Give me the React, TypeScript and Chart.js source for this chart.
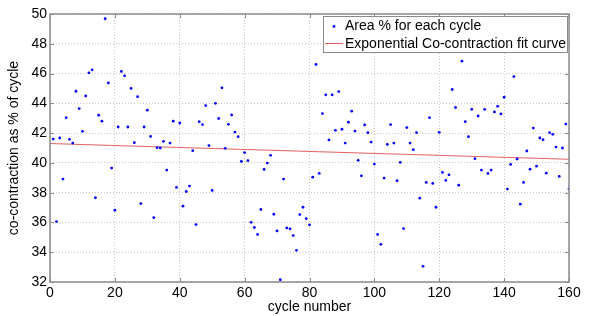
import React, { useEffect, useRef } from "react";
import { Chart, registerables } from "chart.js";

Chart.register(...registerables);

// cycle numbers (x categories)
const cycles: number[] = Array.from({ length: 160 }, (_, i) => i + 1);

// co-contraction area % for each cycle
const areaPercent: number[] = [
  41.6, 36.06, 41.67, 38.91, 43.04, 41.58, 41.33, 44.81, 43.65, 42.12,
  44.5, 46.05, 46.25, 37.66, 43.2, 42.8, 49.68, 45.37, 39.65, 36.82,
  42.41, 46.14, 45.85, 42.41, 45.0, 41.36, 44.45, 37.27, 42.41, 43.54,
  41.78, 36.33, 41.02, 41.0, 41.45, 39.52, 41.33, 42.8, 38.35, 42.68,
  37.09, 38.08, 38.44, 40.82, 35.86, 42.77, 42.57, 43.85, 41.16, 38.15,
  44.0, 42.98, 45.04, 40.98, 42.59, 43.22, 42.07, 41.76, 40.1, 40.69,
  40.15, 36.01, 35.66, 35.19, 36.87, 39.56, 39.99, 40.51, 36.55, 35.43,
  32.15, 38.91, 35.63, 35.57, 35.12, 34.13, 36.53, 37.02, 36.26, 35.84,
  39.04, 46.61, 39.29, 43.31, 44.57, 41.54, 44.57, 42.19, 44.79, 42.26,
  41.33, 42.73, 43.47, 42.14, 40.17, 39.13, 42.55, 42.03, 41.4, 39.92,
  35.19, 34.53, 38.98, 41.25, 42.57, 41.33, 38.8, 40.03, 35.59, 42.37,
  41.33, 40.89, 42.03, 37.63, 33.05, 38.69, 43.04, 38.62, 37.02, 42.05,
  39.36, 38.82, 39.2, 44.93, 43.72, 38.5, 46.83, 42.77, 41.76, 43.6,
  40.28, 43.15, 39.52, 43.6, 39.29, 39.52, 43.42, 43.8, 43.29, 44.41,
  38.24, 39.9, 45.8, 40.26, 37.23, 38.69, 40.8, 39.58, 42.34, 39.78,
  41.67, 41.56, 39.31, 42.03, 41.92, 41.06, 39.09, 41.0, 42.61, 38.26,
];

// exponential fit parameters y = a * exp(b * x)
const fitA = 41.3;
const fitB = -0.000162;
const fitX: number[] = [0, ...cycles];

const xTicks: number[] = [0, 20, 40, 60, 80, 100, 120, 140, 160];
const yTicks: number[] = [32, 34, 36, 38, 40, 42, 44, 46, 48, 50];

const seriesLabels = ["Area % for each cycle", "Exponential Co-contraction fit curve"];

const FONT = '"Liberation Sans", Arial, Helvetica, sans-serif';

const framePlugin = {
  id: "matlabFrame",
  afterDatasetsDraw(chart: any) {
    const { ctx, chartArea } = chart;
    const { left, right, top, bottom } = chartArea;
    const xs = chart.scales.x;
    const ys = chart.scales.y;
    ctx.save();
    ctx.strokeStyle = "#8a8a8a";
    ctx.lineWidth = 1.5;
    ctx.strokeRect(left, top, right - left, bottom - top);
    ctx.lineWidth = 1;
    ctx.beginPath();
    const tl = 4;
    xTicks.forEach((v) => {
      const px = Math.round(xs.getPixelForValue(v)) + 0.5;
      ctx.moveTo(px, bottom);
      ctx.lineTo(px, bottom - tl);
      ctx.moveTo(px, top);
      ctx.lineTo(px, top + tl);
    });
    yTicks.forEach((v) => {
      const py = Math.round(ys.getPixelForValue(v)) + 0.5;
      ctx.moveTo(left, py);
      ctx.lineTo(left + tl, py);
      ctx.moveTo(right, py);
      ctx.lineTo(right - tl, py);
    });
    ctx.stroke();
    ctx.restore();
  },
  afterDraw(chart: any) {
    const { ctx } = chart;
    const ds = chart.data.datasets;
    ctx.save();
    // legend box
    const bx = 323.5, by = 16.5, bw = 244, bh = 36;
    ctx.fillStyle = "#ffffff";
    ctx.fillRect(bx, by, bw, bh);
    ctx.strokeStyle = "#8a8a8a";
    ctx.lineWidth = 1;
    ctx.strokeRect(bx, by, bw, bh);
    ctx.font = "14px " + FONT;
    ctx.fillStyle = "#000";
    ctx.textBaseline = "middle";
    ctx.textAlign = "left";
    // entry 1: point marker
    ctx.fillStyle = ds[0].backgroundColor;
    ctx.beginPath();
    ctx.arc(334, 26.5, 1.4, 0, Math.PI * 2);
    ctx.fill();
    ctx.fillStyle = "#000";
    ctx.fillText(ds[0].label, 345, 26.5);
    // entry 2: line marker
    ctx.strokeStyle = ds[1].borderColor;
    ctx.beginPath();
    ctx.moveTo(325, 43.5);
    ctx.lineTo(343, 43.5);
    ctx.stroke();
    ctx.fillText(ds[1].label, 345, 44);
    ctx.restore();
  },
};

export default function App() {
  const ref = useRef<HTMLCanvasElement | null>(null);

  useEffect(() => {
    document.body.style.margin = "0";
    const canvas = ref.current;
    if (!canvas) return;
    const chart = new Chart(canvas, {
      type: "scatter",
      data: {
        datasets: [
          {
            label: seriesLabels[0],
            data: cycles.map((c, i) => ({ x: c, y: areaPercent[i] })),
            backgroundColor: "#0000ff",
            borderWidth: 0,
            pointRadius: 1.4,
            pointHoverRadius: 1.4,
          },
          {
            label: seriesLabels[1],
            data: fitX.map((x) => ({ x, y: fitA * Math.exp(fitB * x) })),
            showLine: true,
            borderColor: "#e05a5a",
            borderWidth: 1,
            pointRadius: 0,
            fill: false,
          },
        ],
      },
      options: {
        animation: false,
        responsive: false,
        devicePixelRatio: 1,
        layout: { padding: { top: 14, right: 28, left: 0, bottom: 0 } },
        plugins: {
          legend: { display: false },
          tooltip: { enabled: false },
        },
        scales: {
          x: {
            type: "linear",
            min: 0,
            max: 160,
            afterBuildTicks: (s: any) => {
              s.ticks = xTicks.map((v) => ({ value: v }));
            },
            afterFit: (s: any) => {
              s.height = 34;
            },
            ticks: {
              color: "#000",
              font: { family: FONT, size: 14 },
              padding: 3,
              maxRotation: 0,
            },
            grid: { color: "#c4c4c4", lineWidth: 1, drawTicks: false },
            border: { display: false, dash: [1, 2] },
            title: {
              display: true,
              text: "cycle number",
              color: "#000",
              font: { family: FONT, size: 14 },
              padding: { top: 2, bottom: 0 },
            },
          },
          y: {
            type: "linear",
            min: 32,
            max: 50,
            afterBuildTicks: (s: any) => {
              s.ticks = yTicks.map((v) => ({ value: v }));
            },
            afterFit: (s: any) => {
              s.width = 50;
            },
            ticks: {
              color: "#000",
              font: { family: FONT, size: 14 },
              padding: 3,
            },
            grid: { color: "#c4c4c4", lineWidth: 1, drawTicks: false },
            border: { display: false, dash: [1, 2] },
            title: {
              display: true,
              text: "co-contraction as % of cycle",
              color: "#000",
              font: { family: FONT, size: 14 },
              padding: { top: 6, bottom: 0 },
            },
          },
        },
      },
      plugins: [framePlugin],
    });
    return () => chart.destroy();
  }, []);

  return (
    <div style={{ width: 597, height: 316, background: "#fff" }}>
      <canvas ref={ref} width={597} height={316} style={{ display: "block" }} />
    </div>
  );
}
